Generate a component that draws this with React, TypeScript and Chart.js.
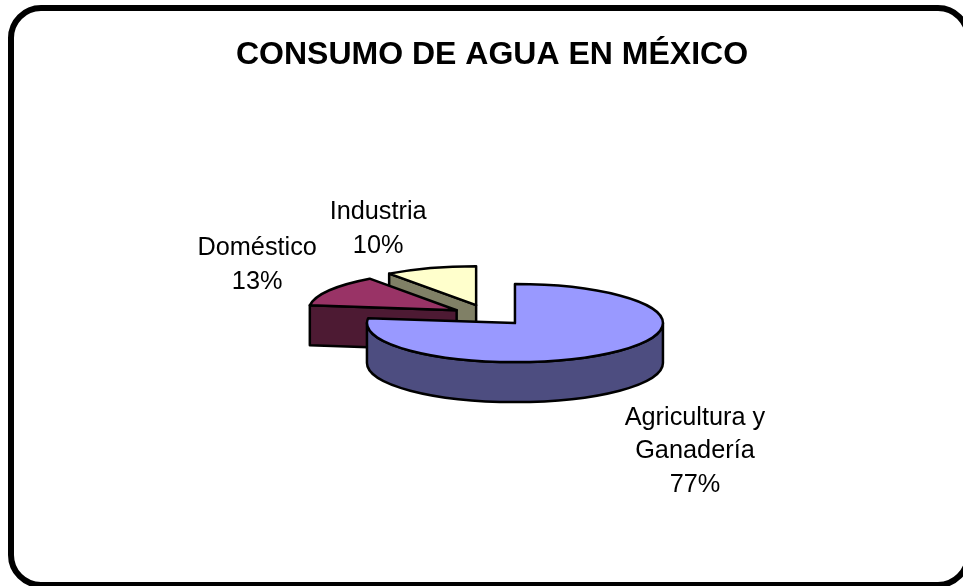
import React, { useEffect, useRef } from "react";
import { Chart, registerables, Plugin } from "chart.js";

Chart.register(...registerables);

const chartTitle = "CONSUMO DE AGUA EN MÉXICO";
const categories = [["Agricultura y", "Ganadería"], ["Doméstico"], ["Industria"]];
const shares = [77, 13, 10];
const topColors = ["#9999FF", "#993366", "#FFFFCC"];
const sideColors = ["#4D4D80", "#4D1A33", "#808066"];
const explode = [40, 37, 40];

const WIDTH = 963;
const HEIGHT = 586;
const FONT = "'Liberation Sans', Arial, sans-serif";
const TILT = 0.2635;
const DEPTH = 40;
// The title is centred a little right of the pie's own centre.
const PIE_SHIFT_X = -3.5;
const LABEL_SIZE = 25.3;
const LABEL_LINE = 33.5;
// Label block centre, relative to the apex of its slice.
const labelShift = [[180, 128], [-199.5, -45], [-98, -76]];

// Draws one slice as an extruded, tilted wedge from the geometry of its arc element.
function drawWedge(ctx: CanvasRenderingContext2D, arc: any, side: string) {
  const { startAngle: a0, endAngle: a1, outerRadius: r } = arc;
  const o = arc.options;
  const mid = (a0 + a1) / 2;
  const cx = arc.x + PIE_SHIFT_X + Math.cos(mid) * o.offset;
  const cy = arc.y + Math.sin(mid) * o.offset * TILT;
  const rimX = (a: number) => cx + r * Math.cos(a);
  const rimY = (a: number) => cy + r * TILT * Math.sin(a);

  ctx.lineWidth = o.borderWidth;
  ctx.strokeStyle = o.borderColor;
  ctx.lineJoin = "round";

  const paint = (fill: string) => {
    ctx.fillStyle = fill;
    ctx.fill();
    ctx.stroke();
  };

  // Radial walls that face the viewer.
  [a0, a1].forEach((a, i) => {
    const facing = i === 0 ? Math.cos(a) < -1e-6 : Math.cos(a) > 1e-6;
    if (!facing) return;
    ctx.beginPath();
    ctx.moveTo(cx, cy);
    ctx.lineTo(rimX(a), rimY(a));
    ctx.lineTo(rimX(a), rimY(a) + DEPTH);
    ctx.lineTo(cx, cy + DEPTH);
    ctx.closePath();
    paint(side);
  });

  // Curved wall, only along the front half of the rim.
  const from = Math.max(a0, 0);
  const to = Math.min(a1, Math.PI);
  if (to > from) {
    ctx.beginPath();
    ctx.ellipse(cx, cy, r, r * TILT, 0, from, to);
    ctx.ellipse(cx, cy + DEPTH, r, r * TILT, 0, to, from, true);
    ctx.closePath();
    paint(side);
  }

  // Top face.
  ctx.beginPath();
  ctx.moveTo(cx, cy);
  ctx.ellipse(cx, cy, r, r * TILT, 0, a0, a1);
  ctx.closePath();
  paint(o.backgroundColor);

  return { cx, cy };
}

const pie3d: Plugin = {
  id: "pie3d",
  beforeDraw(chart) {
    const ctx = chart.ctx;
    ctx.save();
    ctx.fillStyle = "#FFFFFF";
    ctx.fillRect(0, 0, WIDTH, HEIGHT);
    ctx.beginPath();
    ctx.roundRect(11, 8, 957, 577, 30);
    ctx.lineWidth = 6;
    ctx.strokeStyle = "#000000";
    ctx.stroke();
    ctx.restore();
  },
  beforeDatasetDraw(chart, args) {
    const ctx = chart.ctx;
    const arcs = args.meta.data as any[];
    ctx.save();
    // Back slices first, the large front slice last.
    const apexes: { cx: number; cy: number }[] = [];
    for (let i = arcs.length - 1; i >= 0; i--) {
      apexes[i] = drawWedge(ctx, arcs[i], sideColors[i]);
    }
    ctx.fillStyle = "#000000";
    ctx.font = `${LABEL_SIZE}px ${FONT}`;
    ctx.textAlign = "center";
    ctx.textBaseline = "middle";
    arcs.forEach((_, i) => {
      const lines = [...categories[i], `${shares[i]}%`];
      const x = apexes[i].cx + labelShift[i][0];
      const y = apexes[i].cy + labelShift[i][1];
      lines.forEach((line, k) => {
        ctx.fillText(line, x, y + (k - (lines.length - 1) / 2) * LABEL_LINE);
      });
    });
    ctx.restore();
    return false;
  },
};

export default function App() {
  const ref = useRef<HTMLCanvasElement>(null);
  useEffect(() => {
    const chart = new Chart(ref.current!, {
      type: "pie",
      data: {
        labels: categories.map((c) => c.join(" ")),
        datasets: [
          {
            data: shares,
            backgroundColor: topColors,
            borderColor: "#000000",
            borderWidth: 2.5,
            offset: explode,
          },
        ],
      },
      options: {
        responsive: false,
        animation: false,
        radius: 148,
        layout: { padding: { left: 21 } },
        plugins: {
          legend: { display: false },
          tooltip: { enabled: false },
          title: {
            display: true,
            text: chartTitle,
            color: "#000000",
            font: { family: FONT, size: 32, weight: "bold" },
            padding: { top: 36, bottom: -30 },
          },
        },
      },
      plugins: [pie3d],
    } as any);
    return () => chart.destroy();
  }, []);
  return (
    <div style={{ position: "absolute", left: 0, top: 0, width: WIDTH, height: HEIGHT, overflow: "hidden", background: "#fff" }}>
      <canvas ref={ref} width={WIDTH} height={HEIGHT} style={{ display: "block" }} />
    </div>
  );
}
